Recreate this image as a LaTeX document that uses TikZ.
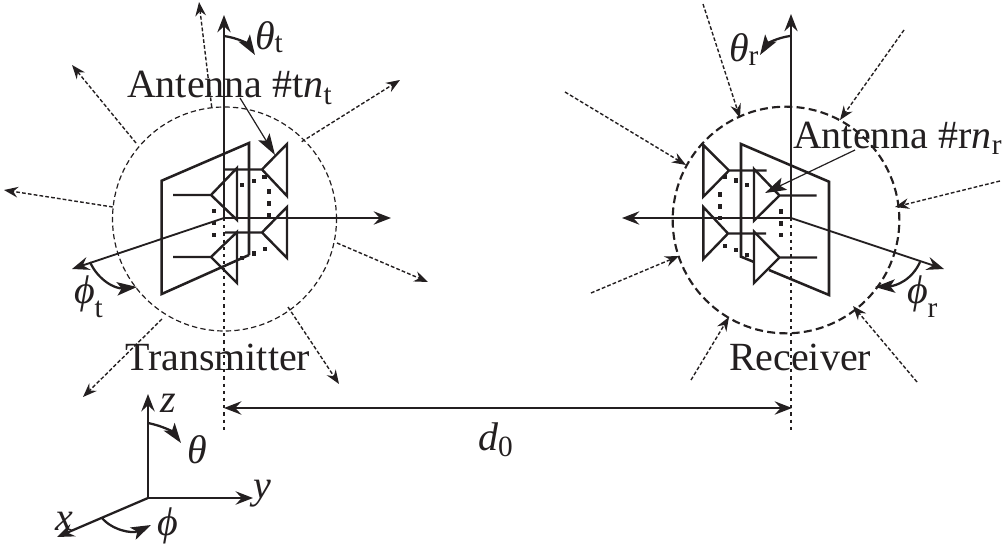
\documentclass[tikz,border=0pt]{standalone}
\usepackage{fontspec}
\setmainfont{Liberation Serif}
\usetikzlibrary{arrows.meta}
\definecolor{ink}{HTML}{231F20}
\newcommand{\lowtxt}[2][0.16em]{\raisebox{-#1}{\fontsize{22}{22}\selectfont #2}}
\tikzset{
  big/.style={font=\fontsize{30}{32}\selectfont, text=ink, inner sep=0pt, outer sep=0pt, anchor=base west},
  tip/.style={-{Stealth[length=13pt,width=10pt,inset=4.5pt]}},
  smalltip/.style={-{Stealth[length=10.5pt,width=8pt,inset=3.5pt]}},
  axisline/.style={ink, line width=1.4pt, tip},
  bendline/.style={ink, line width=1.7pt, -{Stealth[length=15pt,width=10pt,inset=3.5pt]}},
  pointer/.style={ink, line width=0.9pt, -{Stealth[length=16pt,width=10pt,inset=3.5pt]}},
  ray/.style={ink, line width=1.05pt, dash pattern=on 2.8pt off 1.6pt, smalltip},
  txcircle/.style={ink, line width=0.9pt, dash pattern=on 4pt off 2.4pt},
  rxcircle/.style={ink, line width=1.6pt, dash pattern=on 6pt off 3.2pt},
  guide/.style={ink, line width=1.2pt, dash pattern=on 2.4pt off 3pt},
  panel/.style={ink, line width=1.9pt, line join=miter},
  horn/.style={ink, line width=1.8pt, line join=miter},
  dotmark/.style={fill=ink, draw=none, minimum size=3.2pt, inner sep=0pt, outer sep=0pt, shape=rectangle},
}
\begin{document}
\begin{tikzpicture}[x=0.75pt,y=-0.75pt]
\useasboundingbox (0,0) rectangle (1002,549);
% named points
\coordinate (tc) at (224,218);
\coordinate (rc) at (791,218);
\coordinate (txc) at (224.5,219);
\coordinate (rxc) at (786,220);

% circles
\node[draw, txcircle, circle, minimum size=168pt, inner sep=0pt] (txcirc) at (txc) {};
\node[draw, rxcircle, circle, minimum size=170pt, inner sep=0pt] (rxcirc) at (rxc) {};

% transmitter axes
\coordinate (ttop) at (224,15);
\coordinate (tright) at (391,218);
\coordinate (tphi) at (72,269);
\coordinate (tlow) at (224,432);
\draw[axisline] (tc) -- (ttop);
\draw[axisline] (tc) -- (tright);
\draw[axisline] (tc) -- (tphi);
\draw[guide] (tc) -- (tlow);

% receiver axes
\coordinate (rtop) at (791,14);
\coordinate (rleft) at (622,218);
\coordinate (rphi) at (944,269);
\coordinate (rlow) at (791,432);
\draw[axisline] (rc) -- (rtop);
\draw[axisline] (rc) -- (rleft);
\draw[axisline] (rc) -- (rphi);
\draw[guide] (rc) -- (rlow);

% transmitter array
\draw[panel] (249,255) -- (249,143) -- (161.7,180.7) -- (161.7,294) -- (249,255);
\draw[horn] (173,195) -- (211,195) -- (237,168) -- (237,220) -- (211,195);
\draw[horn] (173,257) -- (211,257) -- (237,232) -- (237,283) -- (211,257);
\draw[horn] (225,169.5) -- (262,169.5) -- (287,144) -- (287,196) -- (262,169.5);
\draw[horn] (225,232.5) -- (262,232.5) -- (287,207) -- (287,258) -- (262,232.5);
\foreach \p in {(242,185),(254,181),(264.5,177),(269,191.5),(269,203.5),(269,215),(214,211),(214,223),(214,235),(242,258),(254,253.5),(265,249)}
  \node[dotmark] at \p {};

% receiver array
\draw[panel] (754,262) -- (741,256.7) -- (741,144) -- (829,181.7) -- (829,295) -- (769,270);
\draw[horn] (766.7,170.5) -- (729,170.5) -- (703.3,145) -- (703.3,196.7) -- (729,170.5);
\draw[horn] (766,233.5) -- (728,233.5) -- (703.3,207) -- (703.3,259) -- (728,233.5);
\draw[horn] (816.7,195.5) -- (779.5,195.5) -- (754,169) -- (754,220.7) -- (779.5,195.5);
\draw[horn] (817,257.5) -- (779.5,257.5) -- (754,231.7) -- (754,283) -- (779.5,257.5);
\foreach \p in {(725,176.7),(736,180.5),(747,185),(720,194.5),(720,206.5),(720,218),(781,211.5),(781,223.5),(781,235),(725,246),(736,250),(747,255)}
  \node[dotmark] at \p {};

% outgoing rays
\foreach \a/\b/\c/\d in {211.7/107/199/2, 136/143/72/65, 112.7/207/4/190, 301.7/141.7/400/80, 337/243/428/282, 288/307/339/384, 162/319/83/397}{
  \coordinate (ra) at (\a,\b); \coordinate (rb) at (\c,\d);
  \draw[ray] (ra) -- (rb);
}
% incoming rays
\foreach \a/\b/\c/\d in {703/4/740/118, 904/30/840/120, 565/92/686/165, 1000/181/895/207, 591/293/679/256, 691/380/729/317, 917/382/853/306}{
  \coordinate (ra) at (\a,\b); \coordinate (rb) at (\c,\d);
  \draw[ray] (ra) -- (rb);
}

% angle arcs
\coordinate (a1) at (224,36); \coordinate (a2) at (255,55);
\draw[bendline] (a1) .. controls (238,38) and (248,44) .. (a2);
\coordinate (a3) at (790,36); \coordinate (a4) at (760,55);
\draw[bendline] (a3) .. controls (776,38) and (767,44) .. (a4);
\coordinate (a5) at (90,262); \coordinate (a6) at (137,287);
\draw[bendline] (a5) .. controls (98,280) and (115,289) .. (a6);
\coordinate (a7) at (920,262); \coordinate (a8) at (875,287);
\draw[bendline] (a7) .. controls (912,280) and (896,286) .. (a8);

% antenna pointers
\coordinate (p1) at (240,98); \coordinate (p2) at (275,155);
\draw[pointer] (p1) -- (p2);
\coordinate (p3) at (855,150); \coordinate (p4) at (765,193);
\draw[pointer] (p3) -- (p4);

% distance
\coordinate (d1) at (224,408); \coordinate (d2) at (792,408);
\draw[ink, line width=1.6pt, {Stealth[length=13pt,width=10pt,inset=4.5pt]}-{Stealth[length=13pt,width=10pt,inset=4.5pt]}] (d1) -- (d2);

% coordinate frame
\coordinate (o) at (148,498);
\coordinate (oz) at (148,394);
\coordinate (oy) at (253,498);
\coordinate (ox) at (57,537);
\draw[ink, line width=1.7pt, tip] (o) -- (oz);
\draw[ink, line width=1.7pt, tip] (o) -- (oy);
\draw[ink, line width=1.7pt, tip] (o) -- (ox);
\coordinate (b1) at (148,423); \coordinate (b2) at (181,443);
\draw[bendline] (b1) .. controls (163,426) and (173,432) .. (b2);
\coordinate (b3) at (102,518); \coordinate (b4) at (151,525);
\draw[bendline] (b3) .. controls (112,530) and (132,534) .. (b4);

% labels
\node[big] (lthetat) at (255,50) {\textit{θ}\lowtxt[0.07em]{t}};
\node[big] (lthetar) at (729,62) {\textit{θ}\lowtxt[0.1em]{r}};
\node[big] (lanta) at (127,98) {Antenna \#t\textit{n}\lowtxt{t}};
\node[big] (lantb) at (793,148) {Antenna \#r\textit{n}\lowtxt{r}};
\node[big] (lphit) at (74,303) {\textit{ϕ}\lowtxt[0.36em]{t}};
\node[big] (lphir) at (907,303) {\textit{ϕ}\lowtxt[0.36em]{r}};
\node[big] (ltx) at (125,370) {Transmitter};
\node[big] (lrx) at (729,370) {Receiver};
\node[big] (ld) at (478,450) {\textit{d}\lowtxt{0}};
\node[big] (lz) at (160,412) {\textit{z}};
\node[big] (ltheta) at (187,463) {\textit{θ}};
\node[big] (ly) at (253,498) {\textit{y}};
\node[big] (lx) at (55,530) {\textit{x}};
\node[big] (lphi) at (157,535) {\textit{ϕ}};
\end{tikzpicture}
\end{document}
